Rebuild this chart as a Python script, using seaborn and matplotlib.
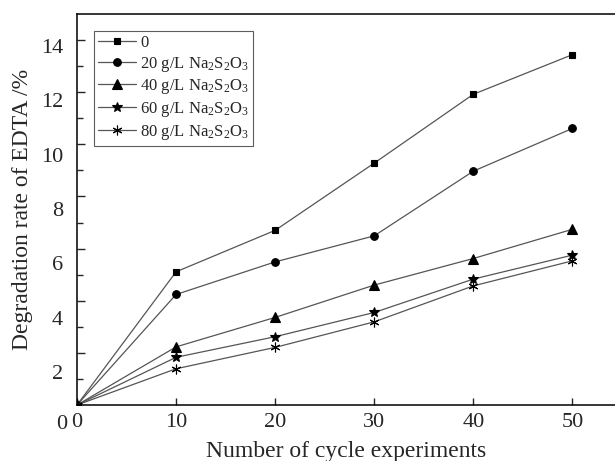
import pandas as pd
import matplotlib
matplotlib.use("Agg")
import matplotlib.pyplot as plt
import seaborn as sns

# Data
cycles = [0, 10, 20, 30, 40, 50]
rate_0 = [0, 5.11, 6.70, 9.28, 11.92, 13.44]
rate_20 = [0, 4.24, 5.49, 6.49, 8.97, 10.61]
rate_40 = [0, 2.23, 3.36, 4.60, 5.62, 6.74]
rate_60 = [0, 1.83, 2.62, 3.55, 4.83, 5.75]
rate_80 = [0, 1.39, 2.21, 3.19, 4.57, 5.53]

salt = r"$\mathregular{Na_2S_2O_3}$"
labels = ["0", "20 g/L " + salt, "40 g/L " + salt, "60 g/L " + salt, "80 g/L " + salt]
y_ticks = [2, 4, 6, 8, 10, 12, 14]
x_ticks = [0, 10, 20, 30, 40, 50]

# Style
sns.set_style("ticks")
plt.rcParams["font.family"] = ["Liberation Serif", "DejaVu Serif"]
plt.rcParams["mathtext.fontset"] = "custom"
plt.rcParams["mathtext.rm"] = "Liberation Serif"

series = [rate_0, rate_20, rate_40, rate_60, rate_80]
markers = ["s", "o", "^", "*", (6, 2, 0)]
sizes = [5, 5.5, 6.5, 7.5, 7]

fig = plt.figure(figsize=(6.15, 4.61), dpi=100)
ax = fig.add_axes([77 / 615, 56 / 461, 538 / 615, 391 / 461])

for vals, lab, mk, ms in zip(series, labels, markers, sizes):
    df = pd.DataFrame({"cycle": cycles, "rate": vals})
    sns.lineplot(data=df, x="cycle", y="rate", ax=ax, label=lab,
                 color="#555555", linewidth=0.9, marker=mk, markersize=ms,
                 markerfacecolor="black", markeredgecolor="black",
                 markeredgewidth=0.8)

ax.set_xlim(0, 54.3)
ax.set_ylim(0, 15)
ax.set_xticks(x_ticks)
ax.set_yticks(y_ticks)
ax.set_yticks([1, 3, 5, 7, 9, 11, 13], minor=True)
ax.tick_params(axis="x", direction="in", length=5, width=1, labelsize=16, pad=6,
               top=False)
ax.tick_params(axis="y", which="major", direction="in", length=6, width=1,
               labelleft=False)
ax.tick_params(axis="y", which="minor", direction="in", length=4, width=1)
for s in ["left", "bottom", "top"]:
    ax.spines[s].set_linewidth(1.1)
    ax.spines[s].set_color("black")
ax.spines["right"].set_visible(False)

ax.set_xlabel("Number of cycle experiments", fontsize=17, labelpad=6)
ax.set_ylabel("Degradation rate of EDTA /%", fontsize=17, labelpad=32)

# y tick labels sit slightly off the ticks in the original
ax2 = ax.twinx()
ax2.set_ylim(0.79, 15.18)
ax2.set_yticks(y_ticks)
ax2.yaxis.set_ticks_position("left")
ax2.yaxis.set_label_position("left")
ax2.tick_params(axis="y", length=0, pad=10, labelsize=16)
for s in ax2.spines.values():
    s.set_visible(False)
fig.text(62 / 615, 1 - 424 / 461, "0", fontsize=16, ha="center", va="center")

leg = ax.legend(loc="upper left", fontsize=12, frameon=True, fancybox=False,
                handlelength=2.3, handletextpad=0.25, labelspacing=0.22,
                borderaxespad=1.0, borderpad=0.25)
leg.get_frame().set_edgecolor("#333333")
leg.get_frame().set_linewidth(0.8)

fig.savefig("out.png", dpi=100)
